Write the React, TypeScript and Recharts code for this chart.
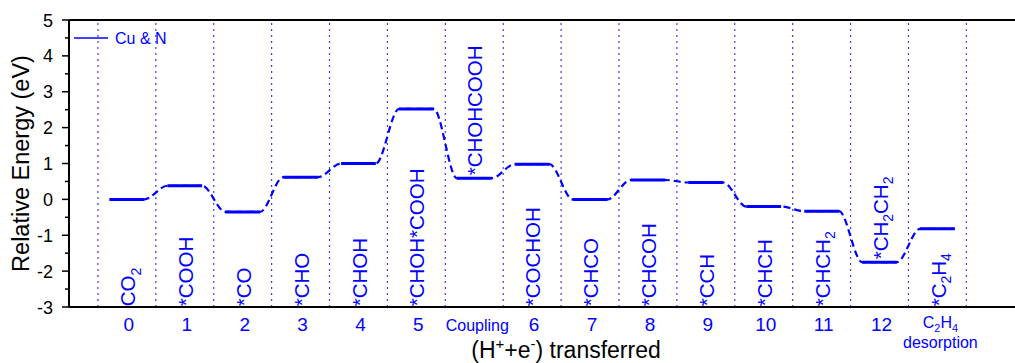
import { ComposedChart, Line, Scatter, XAxis, YAxis, ReferenceLine, Legend } from 'recharts';

const BLUE = '#0000ff';
const FONT = '"Liberation Sans", Arial, sans-serif';

// reaction steps on the x axis (one column each)
const steps = ['0', '1', '2', '3', '4', '5', 'Coupling', '6', '7', '8', '9', '10', '11', '12', 'C2H4 desorption'];
// relative energy of each intermediate (eV)
const energies = [0, 0.38, -0.35, 0.62, 1.0, 2.52, 0.59, 0.98, 0, 0.54, 0.47, -0.2, -0.33, -1.75, -0.82];
// intermediate names, "_n" marks a subscript
const species = [
  'CO_2', '*COOH', '*CO', '*CHO', '*CHOH', '*CHOH*COOH', '*CHOHCOOH', '*COCHOH',
  '*CHCO', '*CHCOH', '*CCH', '*CHCH', '*CHCH_2', '*CH_2CH_2', '*C_2H_4',
];
// names written above the level instead of along the bottom
const namesAbove = ['*CHOHCOOH', '*CH_2CH_2'];
const yTicks = [-3, -2.5, -2, -1.5, -1, -0.5, 0, 0.5, 1, 1.5, 2, 2.5, 3, 3.5, 4, 4.5, 5];

const boundaries = Array.from({ length: steps.length + 1 }, (_, k) => k);
const tickPos = steps.map((_, i) => i + 0.5);

const pathPoints = energies.flatMap((e, i) => [
  { x: i + 0.2, e },
  { x: i + 0.8, e },
]);
const levelPoints = energies.flatMap((e, i) => [
  { x: i + 0.2, e },
  { x: i + 0.8, e },
  { x: i + 0.9, e: null },
]);
const namePoints = species.map((name, i) => ({
  x: i + 0.64,
  y: namesAbove.includes(name) ? energies[i] + 0.08 : -2.98,
  name,
}));

function withSubs(text: string, size: number) {
  const parts = text.split(/_(\d)/);
  const out: any[] = [];
  let shifted = false;
  parts.forEach((p, k) => {
    if (k % 2 === 1) {
      out.push(<tspan key={k} dy={size * 0.28} fontSize={size * 0.68}>{p}</tspan>);
      shifted = true;
    } else if (p) {
      out.push(<tspan key={k} dy={shifted ? -size * 0.28 : 0} fontSize={size}>{p}</tspan>);
      shifted = false;
    }
  });
  return out;
}

const NameLabel = (props: any) => {
  const { cx, cy, payload } = props;
  return (
    <text x={cx} y={cy} transform={`rotate(-90 ${cx} ${cy})`} fill={BLUE} fontFamily={FONT} fontSize={20.5}>
      {withSubs(payload.name, 20.5)}
    </text>
  );
};

const YTick = ({ x, y, payload }: any) => {
  const v = payload.value;
  const major = Number.isInteger(v);
  return (
    <g>
      <line x1={x - (major ? 7 : 4)} x2={x} y1={y} y2={y} stroke="#000" strokeWidth={1.5} />
      {major && (
        <text x={x - 16} y={y} dy={6.5} textAnchor="end" fontSize={18} fill="#000" fontFamily={FONT}>
          {v}
        </text>
      )}
    </g>
  );
};

const XTick = ({ x, y, payload }: any) => {
  const label = steps[Math.floor(payload.value)];
  if (label === 'Coupling') {
    return (
      <text x={x + 3} y={y + 24} textAnchor="middle" fontSize={16} fill={BLUE} fontFamily={FONT}>
        {label}
      </text>
    );
  }
  if (label.startsWith('C2H4')) {
    return (
      <g fill={BLUE} fontFamily={FONT}>
        <text x={x + 3} y={y + 21} textAnchor="middle" fontSize={16}>
          {withSubs('C_2H_4', 16)}
        </text>
        <text x={x + 3} y={y + 41} textAnchor="middle" fontSize={16}>desorption</text>
      </g>
    );
  }
  return (
    <text x={x + 2} y={y + 24} textAnchor="middle" fontSize={19} fill={BLUE} fontFamily={FONT}>
      {label}
    </text>
  );
};

const LegendBox = () => (
  <svg width={110} height={20} style={{ display: 'block' }}>
    <line x1={2} x2={36} y1={10} y2={10} stroke={BLUE} strokeWidth={1.5} />
    <text x={43} y={15.5} fontSize={16} fill={BLUE} fontFamily={FONT}>Cu &amp; N</text>
  </svg>
);

export default function App() {
  return (
    <div style={{ position: 'absolute', left: 0, top: 0, fontFamily: FONT }}>
      <ComposedChart width={1015} height={363} margin={{ top: 20, right: 0, bottom: 0, left: 0 }}>
        <XAxis
          dataKey="x"
          type="number"
          domain={[-0.5, 15.84]}
          allowDataOverflow
          ticks={tickPos}
          interval={0}
          tick={<XTick />}
          tickLine={false}
          tickSize={0}
          tickMargin={0}
          height={56}
          axisLine={{ stroke: '#000', strokeWidth: 2 }}
          label={() => (
            <text x={566} y={357.5} textAnchor="middle" fontSize={23} fill="#000" fontFamily={FONT}>
              (H<tspan dy={-9} fontSize={15}>+</tspan>
              <tspan dy={9}>+e</tspan>
              <tspan dy={-9} fontSize={15}>-</tspan>
              <tspan dy={9}>) transferred</tspan>
            </text>
          )}
        />
        <YAxis
          type="number"
          domain={[-3, 5]}
          ticks={yTicks}
          interval={0}
          tick={<YTick />}
          tickLine={false}
          tickSize={0}
          tickMargin={0}
          width={69}
          axisLine={{ stroke: '#000', strokeWidth: 2 }}
          label={() => (
            <text
              x={29}
              y={163.5}
              transform="rotate(-90 29 163.5)"
              textAnchor="middle"
              fontSize={23.5}
              fill="#000"
              fontFamily={FONT}
            >
              Relative Energy (eV)
            </text>
          )}
        />
        <ReferenceLine y={5} stroke="#000" strokeWidth={2} />
        {boundaries.map((k) => (
          <ReferenceLine key={k} x={k} stroke="#3a3aff" strokeWidth={1.2} strokeDasharray="2 4" />
        ))}
        <Legend
          layout="horizontal"
          verticalAlign="middle"
          align="center"
          wrapperStyle={{ top: 28, left: 72, width: 'auto' }}
          content={() => <LegendBox />}
        />
        <Line
          data={pathPoints}
          dataKey="e"
          type="monotoneX"
          stroke={BLUE}
          strokeWidth={2.2}
          strokeDasharray="7 4"
          dot={false}
          activeDot={false}
          legendType="none"
          isAnimationActive={false}
        />
        <Line
          data={levelPoints}
          dataKey="e"
          name="Cu & N"
          type="linear"
          stroke={BLUE}
          strokeWidth={3}
          dot={false}
          activeDot={false}
          connectNulls={false}
          isAnimationActive={false}
        />
        <Scatter data={namePoints} dataKey="y" shape={<NameLabel />} legendType="none" isAnimationActive={false} />
      </ComposedChart>
    </div>
  );
}
